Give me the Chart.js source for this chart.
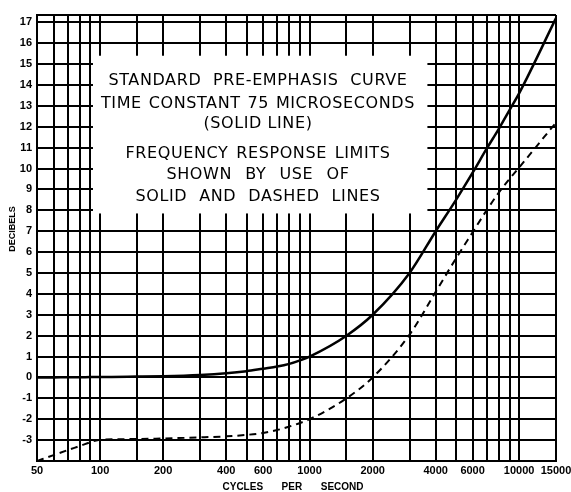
<!DOCTYPE html>
<html>
<head>
<meta charset="utf-8">
<title>Standard Pre-Emphasis Curve</title>
<script src="https://cdn.jsdelivr.net/npm/chart.js@4.4.1/dist/chart.umd.min.js"></script>
<style>
  html, body { margin: 0; padding: 0; background: #fff; }
  canvas { display: block; }
</style>
</head>
<body>
<canvas id="canvas" width="571" height="492"></canvas>
<script>
// frequencies (c/s) where the curves are read, same as the vertical rulings
var freqs = [50, 60, 70, 80, 90, 100, 150, 200, 300, 400, 500, 600, 700, 800, 900,
             1000, 1500, 2000, 3000, 4000, 5000, 6000, 7000, 8000, 9000, 10000, 15000];
// 75 microsecond pre-emphasis, decibels (solid)
var preEmphasis = [0, 0, 0.01, 0.01, 0.02, 0.02, 0.04, 0.06, 0.12, 0.2, 0.3, 0.42, 0.52, 0.65, 0.82,
                   1.0, 2.0, 3.0, 5.0, 7.0, 8.5, 9.8, 10.95, 11.9, 12.8, 13.6, 17.2];
// lower response limit, decibels (dashed)
var lowerLimit = [-4.0, -3.72, -3.48, -3.28, -3.1, -2.98, -2.95, -2.92, -2.87, -2.82, -2.75, -2.66, -2.52, -2.35, -2.18,
                  -2.0, -1.0, 0.0, 2.05, 4.1, 5.7, 6.95, 8.0, 8.85, 9.5, 10.05, 12.2];

var xGridLines = [50, 60, 70, 80, 90, 100, 150, 200, 300, 400, 500, 600, 700, 800, 900,
                  1000, 1500, 2000, 3000, 4000, 5000, 6000, 7000, 8000, 9000, 10000, 15000];
var xTickLabels = [50, 100, 200, 400, 600, 1000, 2000, 4000, 6000, 10000, 15000];
var yGridLines = [-4, -3, -2, -1, 0, 1, 2, 3, 4, 5, 6, 7, 8, 9, 10, 11, 12, 13, 14, 15, 16, 17];
var yTickLabels = [-3, -2, -1, 0, 1, 2, 3, 4, 5, 6, 7, 8, 9, 10, 11, 12, 13, 14, 15, 16, 17];
var yMin = -4, yMax = 17.35;

var noteText = [
  "STANDARD PRE-EMPHASIS CURVE",
  "TIME CONSTANT 75 MICROSECONDS",
  "(SOLID LINE)",
  "FREQUENCY RESPONSE LIMITS",
  "SHOWN BY USE OF",
  "SOLID AND DASHED LINES"
];

var ink = '#000';
var tickFont = { family: 'Liberation Sans', size: 11, weight: 'bold' };

function points(ys) {
  return freqs.map(function (f, i) { return { x: f, y: ys[i] }; });
}

// spread the words of a line over a given width, centred on cx
function spreadText(ctx, text, cx, cy, width) {
  var words = text.split(' ');
  var natural = words.reduce(function (s, w) { return s + ctx.measureText(w).width; }, 0);
  var gap = words.length > 1 ? (width - natural) / (words.length - 1) : 0;
  var x = cx - (words.length > 1 ? width : natural) / 2;
  words.forEach(function (w) {
    ctx.fillText(w, x, cy);
    x += ctx.measureText(w).width + gap;
  });
}

// white panel with the legend lettering, painted over the rulings
var notePanel = {
  id: 'notePanel',
  beforeDatasetsDraw: function (chart) {
    var ctx = chart.ctx, x = chart.scales.x, y = chart.scales.y;
    var left = x.getPixelForValue(92.5), right = x.getPixelForValue(3650);
    var top = y.getPixelForValue(15.4), bottom = y.getPixelForValue(7.85);
    ctx.save();
    ctx.fillStyle = '#fff';
    ctx.fillRect(left, top, right - left, bottom - top);
    ctx.fillStyle = ink;
    ctx.textAlign = 'left';
    ctx.textBaseline = 'middle';
    ctx.font = '16px "DejaVu Sans"';
    ctx.letterSpacing = '0.6px';
    var rows = [[25, 299], [48, 314], [68, 109], [98, 265], [119, 183], [141, 245]];
    var cx = left + 165;
    noteText.forEach(function (t, i) {
      spreadText(ctx, t, cx, top + rows[i][0], rows[i][1]);
    });
    ctx.restore();
  },
  afterDraw: function (chart) {
    var ctx = chart.ctx;
    ctx.save();
    ctx.fillStyle = ink;
    ctx.textBaseline = 'middle';
    ctx.font = 'bold 10px "Liberation Sans"';
    spreadText(ctx, 'CYCLES PER SECOND', 293, 487, 141);
    ctx.translate(13, 229);
    ctx.rotate(-Math.PI / 2);
    ctx.font = 'bold 9px "Liberation Sans"';
    ctx.textAlign = 'center';
    ctx.fillText('DECIBELS', 0, 0);
    ctx.restore();
  }
};

var config = {
  type: 'line',
  data: {
    datasets: [{
      label: 'Pre-emphasis',
      data: points(preEmphasis),
      borderColor: ink,
      borderWidth: 2.5,
      pointRadius: 0,
      cubicInterpolationMode: 'monotone'
    }, {
      label: 'Lower limit',
      data: points(lowerLimit),
      borderColor: ink,
      borderWidth: 2,
      borderDash: [7, 5],
      pointRadius: 0,
      cubicInterpolationMode: 'monotone'
    }]
  },
  options: {
    responsive: false,
    animation: false,
    devicePixelRatio: 1,
    layout: { padding: { left: 0, right: 15, top: 15, bottom: 0 } },
    plugins: {
      legend: { display: false },
      tooltip: { enabled: false }
    },
    scales: {
      x: {
        type: 'logarithmic',
        min: 50,
        max: 15000,
        afterBuildTicks: function (scale) {
          scale.ticks = xGridLines.map(function (v) { return { value: v }; });
        },
        afterFit: function (scale) {
          scale.height = 31;
          scale.paddingLeft = 0;
          scale.paddingRight = 0;
        },
        ticks: {
          autoSkip: false,
          maxRotation: 0,
          padding: 3,
          color: ink,
          font: tickFont,
          callback: function (v) { return xTickLabels.indexOf(v) >= 0 ? String(v) : ''; }
        },
        grid: { color: ink, lineWidth: 2, drawTicks: false },
        border: { color: ink, width: 2 }
      },
      y: {
        type: 'linear',
        min: yMin,
        max: yMax,
        afterBuildTicks: function (scale) {
          scale.ticks = yGridLines.concat([yMax]).map(function (v) { return { value: v }; });
        },
        afterFit: function (scale) {
          scale.width = 37;
          scale.paddingTop = 0;
          scale.paddingBottom = 0;
        },
        ticks: {
          autoSkip: false,
          padding: 5,
          color: ink,
          font: tickFont,
          callback: function (v) { return yTickLabels.indexOf(v) >= 0 ? String(v) : ''; }
        },
        grid: { color: ink, lineWidth: 2, drawTicks: false },
        border: { color: ink, width: 2 }
      }
    }
  },
  plugins: [notePanel]
};

var chart = new Chart(document.getElementById('canvas'), config);
</script>
</body>
</html>
